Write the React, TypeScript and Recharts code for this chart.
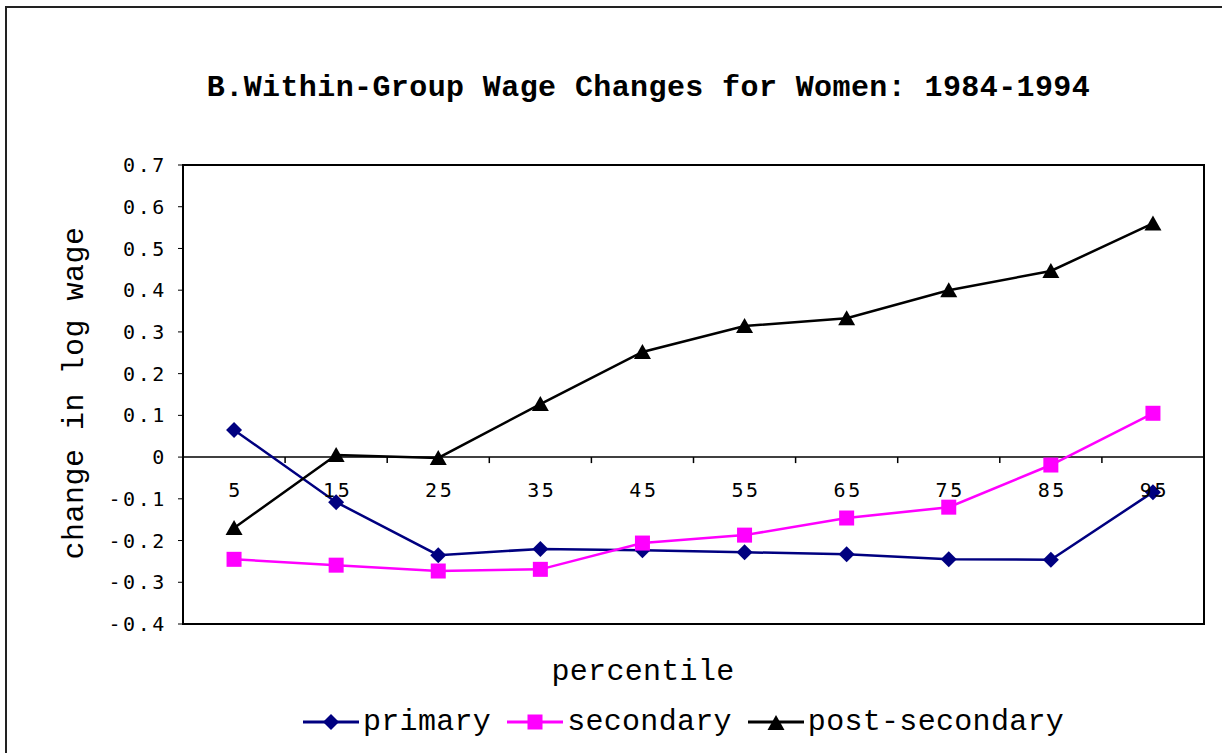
import React from "react"
import { LineChart, Line, XAxis, YAxis, ReferenceLine } from "recharts"

const percentiles = ["5", "15", "25", "35", "45", "55", "65", "75", "85", "95"]
const primary = [0.065, -0.108, -0.235, -0.22, -0.223, -0.228, -0.233, -0.245, -0.246, -0.084]
const secondary = [-0.245, -0.259, -0.273, -0.269, -0.206, -0.187, -0.146, -0.12, -0.019, 0.105]
const postSecondary = [-0.17, 0.005, -0.002, 0.127, 0.252, 0.314, 0.333, 0.4, 0.446, 0.56]
const yTicks = [-0.4, -0.3, -0.2, -0.1, 0, 0.1, 0.2, 0.3, 0.4, 0.5, 0.6, 0.7]

const data = percentiles.map((p, i) => ({
  pct: p,
  primary: primary[i],
  secondary: secondary[i],
  post: postSecondary[i],
}))

const W = 1222
const H = 753
const PLOT_LEFT = 183
const PLOT_TOP = 165
const PLOT_RIGHT = 1204
const PLOT_BOTTOM = 624
const X_AXIS_H = 30
const Y_MIN = -0.4
const Y_MAX = 0.7
const ZERO_Y = PLOT_TOP + ((PLOT_BOTTOM - PLOT_TOP) * Y_MAX) / (Y_MAX - Y_MIN)
const BAND = (PLOT_RIGHT - PLOT_LEFT) / percentiles.length

const NAVY = "#000080"
const MAGENTA = "#ff00ff"
const BLACK = "#000000"
const MONO = "'Liberation Mono', 'Courier New', monospace"
const TICK_FONT = "'DejaVu Sans Mono', monospace"

function Diamond({ cx, cy, color }: { cx?: number; cy?: number; color: string }) {
  if (cx == null || cy == null) return null
  return <polygon points={`${cx},${cy - 8} ${cx + 8},${cy} ${cx},${cy + 8} ${cx - 8},${cy}`} fill={color} />
}

function Square({ cx, cy, color }: { cx?: number; cy?: number; color: string }) {
  if (cx == null || cy == null) return null
  return <rect x={cx - 7.5} y={cy - 7.5} width={15} height={15} fill={color} />
}

function Triangle({ cx, cy, color }: { cx?: number; cy?: number; color: string }) {
  if (cx == null || cy == null) return null
  return <polygon points={`${cx},${cy - 8} ${cx + 8.5},${cy + 7} ${cx - 8.5},${cy + 7}`} fill={color} />
}

function XTick(props: any) {
  const { x, payload, index } = props
  return (
    <g>
      <text
        x={x + 1.5}
        y={ZERO_Y + 40}
        textAnchor="middle"
        fontFamily={TICK_FONT}
        fontSize={20}
        letterSpacing={2.6}
        fill="#000"
      >
        {payload.value}
      </text>
      {index < percentiles.length - 1 && (
        <line x1={x + BAND / 2} x2={x + BAND / 2} y1={ZERO_Y} y2={ZERO_Y + 6} stroke="#000" strokeWidth={1.5} />
      )}
    </g>
  )
}

const legendItems = [
  { name: "primary", color: NAVY, marker: "diamond" },
  { name: "secondary", color: MAGENTA, marker: "square" },
  { name: "post-secondary", color: BLACK, marker: "triangle" },
]

function LegendContent() {
  return (
    <div style={{ display: "flex", alignItems: "center", fontFamily: MONO, fontSize: 30, lineHeight: "34px" }}>
      {legendItems.map((it) => (
        <div key={it.name} style={{ display: "flex", alignItems: "center", marginRight: 16 }}>
          <svg width={56} height={20} style={{ marginRight: 4 }}>
            <line x1={0} x2={56} y1={10} y2={10} stroke={it.color} strokeWidth={3} />
            {it.marker === "diamond" && <Diamond cx={28} cy={10} color={it.color} />}
            {it.marker === "square" && <Square cx={28} cy={10} color={it.color} />}
            {it.marker === "triangle" && <Triangle cx={28} cy={11} color={it.color} />}
          </svg>
          <span style={{ color: "#000", letterSpacing: 0.3 }}>{it.name}</span>
        </div>
      ))}
    </div>
  )
}

export default function App() {
  return (
    <div style={{ position: "absolute", left: 0, top: 0, width: W, height: H, overflow: "hidden", background: "#fff" }}>
      <div
        style={{
          position: "absolute",
          left: 5,
          top: 6,
          width: W + 20,
          height: H + 20,
          borderLeft: "2px solid #222",
          borderTop: "2px solid #222",
        }}
      />
      <div
        style={{
          position: "absolute",
          left: 0,
          top: 71,
          width: 1297,
          textAlign: "center",
          fontFamily: MONO,
          fontWeight: "bold",
          fontSize: 30,
          lineHeight: "34px",
          letterSpacing: 0.4,
          color: "#000",
        }}
      >
        B.Within-Group Wage Changes for Women: 1984-1994
      </div>
      <div
        style={{
          position: "absolute",
          left: 0,
          top: 655,
          width: 1286,
          textAlign: "center",
          fontFamily: MONO,
          fontSize: 30,
          lineHeight: "34px",
          letterSpacing: 0.3,
          color: "#000",
        }}
      >
        percentile
      </div>
      <div style={{ position: "absolute", left: 0, top: 0 }}>
        <LineChart
          width={W}
          height={H}
          data={data}
          margin={{ top: PLOT_TOP, right: W - PLOT_RIGHT, bottom: H - PLOT_BOTTOM - X_AXIS_H, left: 0 }}
        >
          <XAxis
            dataKey="pct"
            type="category"
            height={X_AXIS_H}
            padding={{ left: BAND / 2, right: BAND / 2 }}
            axisLine={{ stroke: "#000", strokeWidth: 2 }}
            tickLine={false}
            tick={<XTick />}
            interval={0}
          />
          <YAxis
            width={PLOT_LEFT}
            domain={[Y_MIN, Y_MAX]}
            ticks={yTicks}
            interval={0}
            tickFormatter={(v: number) => (v === 0 ? "0" : v.toFixed(1))}
            axisLine={{ stroke: "#000", strokeWidth: 2 }}
            tickLine={{ stroke: "#000" }}
            tickSize={5}
            tickMargin={11}
            tick={{ fill: "#000", fontFamily: TICK_FONT, fontSize: 20, letterSpacing: 2.6 }}
            label={{
              content: () => (
                <text
                  x={83}
                  y={393}
                  transform="rotate(-90 83 393)"
                  textAnchor="middle"
                  fontFamily={MONO}
                  fontSize={30}
                  letterSpacing={0.5}
                  fill="#000"
                >
                  change in log wage
                </text>
              ),
            }}
          />
          <ReferenceLine y={0} stroke="#000" strokeWidth={1.5} />
          <Line
            dataKey="primary"
            name="primary"
            stroke={NAVY}
            strokeWidth={2.5}
            dot={(p: any) => <Diamond key={`d-${p.index}`} cx={p.cx} cy={p.cy} color={NAVY} />}
            activeDot={false}
            isAnimationActive={false}
          />
          <Line
            dataKey="secondary"
            name="secondary"
            stroke={MAGENTA}
            strokeWidth={2.5}
            dot={(p: any) => <Square key={`s-${p.index}`} cx={p.cx} cy={p.cy} color={MAGENTA} />}
            activeDot={false}
            isAnimationActive={false}
          />
          <Line
            dataKey="post"
            name="post-secondary"
            stroke={BLACK}
            strokeWidth={2.5}
            dot={(p: any) => <Triangle key={`t-${p.index}`} cx={p.cx} cy={p.cy} color={BLACK} />}
            activeDot={false}
            isAnimationActive={false}
          />
        </LineChart>
      </div>
      <div
        style={{
          position: "absolute",
          left: PLOT_LEFT - 1,
          top: PLOT_TOP - 1,
          width: PLOT_RIGHT - PLOT_LEFT + 2,
          height: PLOT_BOTTOM - PLOT_TOP + 2,
          boxSizing: "border-box",
          border: "2px solid #000",
          pointerEvents: "none",
        }}
      />
      <div style={{ position: "absolute", left: 303, top: 705 }}>
        <LegendContent />
      </div>
    </div>
  )
}
